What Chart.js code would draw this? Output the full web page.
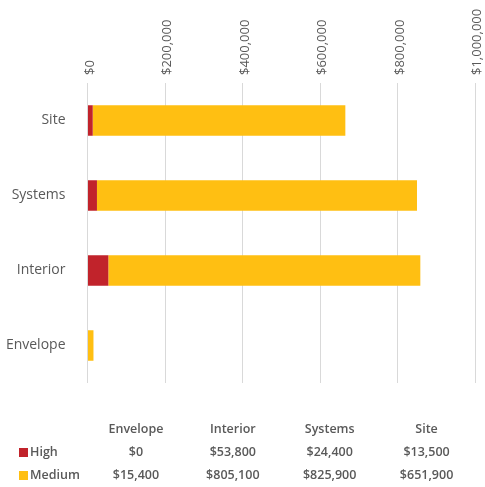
<!DOCTYPE html>
<html>
<head>
<meta charset="utf-8">
<script src="https://cdn.jsdelivr.net/npm/chart.js@4"></script>
<style>
  html, body { margin: 0; padding: 0; background: #fff; }
  #wrap { width: 485px; height: 487px; position: relative; }
</style>
</head>
<body>
<div id="wrap"><canvas id="costChart" width="485" height="487"></canvas></div>
<script>
// data (order as in the table under the chart)
const categories = ['Envelope', 'Interior', 'Systems', 'Site'];
const highValues = [0, 53800, 24400, 13500];
const mediumValues = [15400, 805100, 825900, 651900];
const tickStep = 200000;
const axisMax = 1000000;

const textColor = '#595959';
const fontFamily = "'Open Sans', 'Noto Sans', sans-serif";

const money = (v) => '$' + Number(v).toLocaleString('en-US');

// data table + legend drawn below the plot
const dataTablePlugin = {
    id: 'dataTable',
    afterDraw(chart) {
        const { ctx, chartArea } = chart;
        const colW = (chartArea.right - chartArea.left) / categories.length;
        const rows = [
            { name: 'High', color: chart.data.datasets[0].backgroundColor, values: highValues },
            { name: 'Medium', color: chart.data.datasets[1].backgroundColor, values: mediumValues }
        ];
        ctx.save();
        ctx.fillStyle = textColor;
        ctx.font = `600 12.5px ${fontFamily}`;
        ctx.textBaseline = 'middle';
        ctx.textAlign = 'center';
        const headerY = 429;
        categories.forEach((c, i) => {
            ctx.fillText(c, chartArea.left + colW * (i + 0.5), headerY);
        });
        rows.forEach((row, r) => {
            const y = 452 + r * 23;
            ctx.fillStyle = row.color;
            ctx.fillRect(19, y - 4, 9, 9);
            ctx.fillStyle = textColor;
            ctx.textAlign = 'left';
            ctx.fillText(row.name, 30, y);
            ctx.textAlign = 'center';
            row.values.forEach((v, i) => {
                ctx.fillText(money(v), chartArea.left + colW * (i + 0.5), y);
            });
        });
        ctx.restore();
    }
};

new Chart(document.getElementById('costChart'), {
    type: 'bar',
    data: {
        labels: categories,
        datasets: [{
            label: 'High',
            data: highValues,
            backgroundColor: '#C1232B',
            barPercentage: 0.62,
            categoryPercentage: 0.66
        }, {
            label: 'Medium',
            data: mediumValues,
            backgroundColor: '#FFBF12',
            barPercentage: 0.62,
            categoryPercentage: 0.66
        }]
    },
    options: {
        indexAxis: 'y',
        responsive: false,
        animation: false,
        layout: { padding: { top: 0, left: 0, right: 10, bottom: 104 } },
        scales: {
            x: {
                position: 'top',
                stacked: true,
                min: 0,
                max: axisMax,
                border: { display: false },
                grid: { color: '#d9d9d9', drawTicks: false },
                ticks: {
                    stepSize: tickStep,
                    minRotation: 90,
                    maxRotation: 90,
                    padding: 8,
                    labelOffset: 18,
                    color: textColor,
                    font: { family: fontFamily, size: 13 },
                    callback: (v) => money(v)
                },
                afterFit: (scale) => { scale.height = 83; }
            },
            y: {
                stacked: true,
                reverse: true,
                border: { display: false },
                grid: { display: false },
                ticks: {
                    padding: 14,
                    color: textColor,
                    font: { family: fontFamily, size: 14 }
                },
                afterFit: (scale) => { scale.width = 87.5; }
            }
        },
        plugins: {
            legend: { display: false },
            tooltip: { enabled: false }
        }
    },
    plugins: [dataTablePlugin]
});
</script>
</body>
</html>
